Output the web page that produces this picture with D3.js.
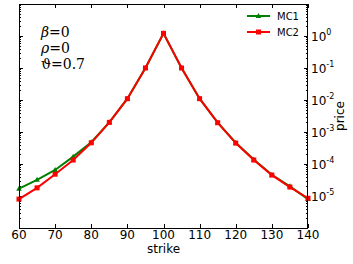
<!DOCTYPE html>
<html>
<head>
<meta charset="utf-8">
<script src="https://cdn.jsdelivr.net/npm/d3@7"></script>
<style>
  body { margin: 0; background: #fff; }
  svg text { font-family: "DejaVu Sans", sans-serif; }
</style>
</head>
<body>
<script>
// strikes and prices
const strikes = [60, 65, 70, 75, 80, 85, 90, 95, 100, 105, 110, 115, 120, 125, 130, 135, 140];
const mc1 = [1.7e-5, 3.2e-5, 6.5e-5, 1.7e-4, 4.8e-4, 2.0e-3, 1.1e-2, 0.10, 1.21, 0.10, 1.1e-2, 1.95e-3, 4.6e-4, 1.38e-4, 4.6e-5, 2.0e-5, 8.0e-6];
const mc2 = [8.0e-6, 1.8e-5, 4.8e-5, 1.33e-4, 4.6e-4, 2.0e-3, 1.1e-2, 0.10, 1.21, 0.10, 1.1e-2, 1.95e-3, 4.5e-4, 1.33e-4, 4.5e-5, 1.9e-5, 8.5e-6];
const xTicks = [60, 70, 80, 90, 100, 110, 120, 130, 140];
const yTicks = [1, 1e-1, 1e-2, 1e-3, 1e-4, 1e-5];
const notes = [["\u03b2", "=0"], ["\u03c1", "=0"], ["\u03d1", "=0.7"]];

let W = 353, H = 264;
let m = {left: 19, right: 45, top: 4, bottom: 36};

let svg = d3.select("body").append("svg")
    .attr("width", W)
    .attr("height", H);

let x = d3.scaleLinear().domain([60, 140]).range([m.left, W - m.right]);
let y = d3.scaleLog().domain([1e-6, 10]).range([H - m.bottom, m.top]);

let x0 = x.range()[0], x1 = x.range()[1], y0 = y.range()[0], y1 = y.range()[1];

// minor log ticks
let minors = [];
for (let e = -6; e < 1; e++) {
    for (let k = 2; k <= 9; k++) minors.push(k * Math.pow(10, e));
}

let ticks = svg.append("g").attr("stroke", "#000").attr("stroke-width", 1);
xTicks.forEach(t => {
    let px = Math.round(x(t)) + 0.5;
    ticks.append("line").attr("x1", px).attr("x2", px).attr("y1", y0).attr("y2", y0 - 4);
    ticks.append("line").attr("x1", px).attr("x2", px).attr("y1", y1).attr("y2", y1 + 4);
});
yTicks.concat([1e-6, 10]).forEach(t => {
    let py = Math.round(y(t)) + 0.5;
    ticks.append("line").attr("x1", x0).attr("x2", x0 + 4).attr("y1", py).attr("y2", py);
    ticks.append("line").attr("x1", x1).attr("x2", x1 - 4).attr("y1", py).attr("y2", py);
});
minors.forEach(t => {
    let py = Math.round(y(t)) + 0.5;
    ticks.append("line").attr("x1", x0).attr("x2", x0 + 2).attr("y1", py).attr("y2", py);
    ticks.append("line").attr("x1", x1).attr("x2", x1 - 2).attr("y1", py).attr("y2", py);
});

// data lines
let line = d3.line().x((d, i) => x(strikes[i])).y(d => y(d));
let series = [
    {name: "MC1", values: mc1, color: "#008000", marker: "tri"},
    {name: "MC2", values: mc2, color: "#ff0000", marker: "sq"}
];

let plot = svg.append("g");
series.forEach(s => {
    plot.append("path")
        .datum(s.values)
        .attr("fill", "none")
        .attr("stroke", s.color)
        .attr("stroke-width", 2)
        .attr("d", line);
    plot.selectAll(null)
        .data(s.values)
        .enter()
        .append("path")
        .attr("transform", (d, i) => `translate(${x(strikes[i])},${y(d)})`)
        .attr("d", s.marker == "sq" ? "M-2.5,-2.5H2.5V2.5H-2.5Z" : "M0,-3L2.8,2L-2.8,2Z")
        .attr("fill", s.color);
});

// frame
svg.append("rect")
    .attr("x", x0 + 0.5).attr("y", y1 + 0.5)
    .attr("width", x1 - x0 - 1).attr("height", y0 - y1)
    .attr("fill", "none").attr("stroke", "#000");

// x tick labels
svg.append("g").selectAll("text")
    .data(xTicks)
    .enter()
    .append("text")
    .attr("x", d => x(d))
    .attr("y", y0 + 11)
    .attr("text-anchor", "middle")
    .attr("font-size", 12)
    .text(d => d);

svg.append("text")
    .attr("x", (x0 + x1) / 2)
    .attr("y", 253)
    .attr("text-anchor", "middle")
    .attr("font-size", 12)
    .text("strike");

// y tick labels on the right
let yl = svg.append("g").selectAll("text")
    .data(yTicks)
    .enter()
    .append("text")
    .attr("x", x1 + 3)
    .attr("y", d => y(d) + 5)
    .attr("font-size", 12);
yl.append("tspan").text("10");
yl.append("tspan")
    .attr("dy", -6)
    .attr("font-size", 8)
    .text(d => Math.round(Math.log10(d)) == 0 ? "0" : "-" + Math.abs(Math.round(Math.log10(d))));

svg.append("text")
    .attr("transform", `translate(${W - 9},${(y0 + y1) / 2}) rotate(-90)`)
    .attr("text-anchor", "middle")
    .attr("font-size", 12)
    .text("price");

// parameter notes
let nt = svg.append("g").selectAll("text")
    .data(notes)
    .enter()
    .append("text")
    .attr("x", 41)
    .attr("y", (d, i) => 37 + i * 16)
    .attr("font-size", 14);
nt.append("tspan")
    .attr("font-family", "DejaVu Serif")
    .attr("font-style", d => d[0] == "\u03d1" ? "normal" : "italic")
    .text(d => d[0]);
nt.append("tspan")
    .attr("font-family", "DejaVu Serif")
    .text(d => d[1]);

// legend
let leg = svg.append("g");
series.forEach((s, i) => {
    let ly = 16 + i * 16;
    leg.append("line")
        .attr("x1", 247).attr("x2", 270).attr("y1", ly).attr("y2", ly)
        .attr("stroke", s.color).attr("stroke-width", 2);
    leg.append("path")
        .attr("transform", `translate(258.5,${ly})`)
        .attr("d", s.marker == "sq" ? "M-2.5,-2.5H2.5V2.5H-2.5Z" : "M0,-3L2.8,2L-2.8,2Z")
        .attr("fill", s.color);
    leg.append("text")
        .attr("x", 277).attr("y", ly + 4)
        .attr("font-size", 10)
        .text(s.name);
});
</script>
</body>
</html>
